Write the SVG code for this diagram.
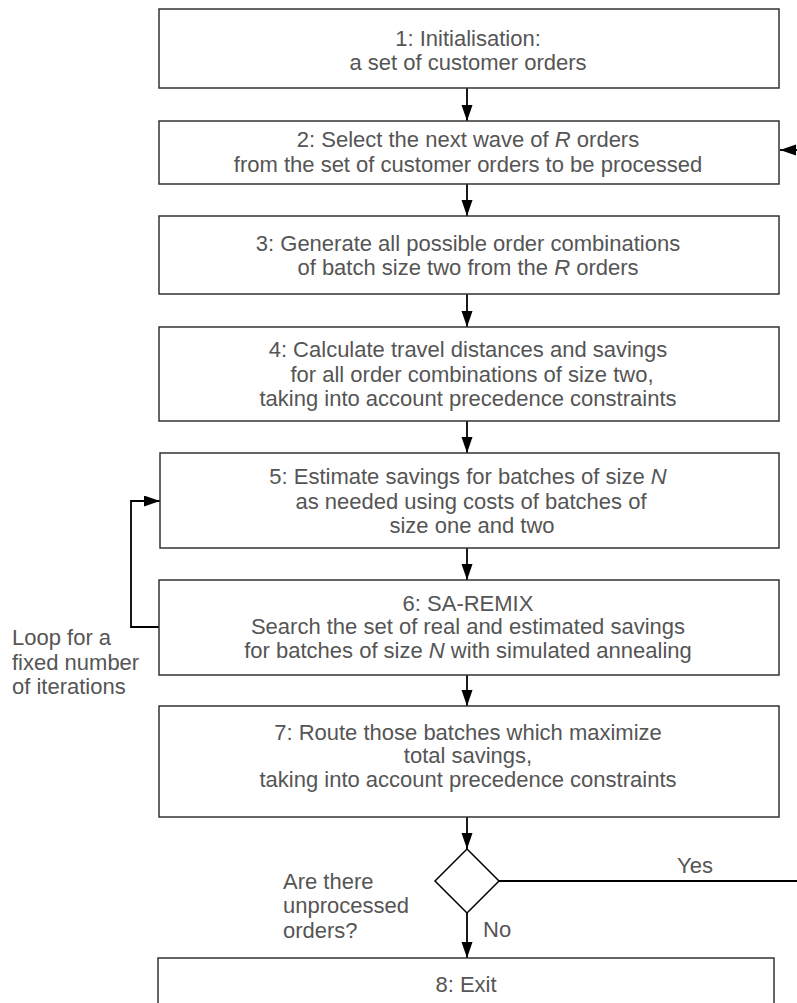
<svg xmlns="http://www.w3.org/2000/svg" width="797" height="1003" viewBox="0 0 797 1003">
<style>
.box{fill:#fff;stroke:#333;stroke-width:1.5}
.t{font-family:"Liberation Sans",Arial,sans-serif;font-size:22px;fill:#555;text-anchor:middle}
.l{font-family:"Liberation Sans",Arial,sans-serif;font-size:22px;fill:#555}
.c{fill:none;stroke:#000;stroke-width:1.8}
</style>
<defs>
<marker id="ah" markerUnits="userSpaceOnUse" markerWidth="17" markerHeight="12" refX="16" refY="5.5" orient="auto">
<path d="M0,0 L16,5.5 L0,11 z" fill="#000"/>
</marker>
</defs>
<rect width="797" height="1003" fill="#fff"/>
<g id="connectors">
<line class="c" x1="467" y1="88" x2="467" y2="121" marker-end="url(#ah)"/>
<line class="c" x1="797" y1="150" x2="780" y2="150" marker-end="url(#ah)"/>
<line class="c" x1="467" y1="184" x2="467" y2="216" marker-end="url(#ah)"/>
<line class="c" x1="467" y1="294" x2="467" y2="327" marker-end="url(#ah)"/>
<line class="c" x1="467" y1="421" x2="467" y2="453" marker-end="url(#ah)"/>
<line class="c" x1="467" y1="548" x2="467" y2="580" marker-end="url(#ah)"/>
<polyline class="c" points="159,627 131,627 131,501 160,501" marker-end="url(#ah)"/>
<line class="c" x1="467" y1="675" x2="467" y2="706" marker-end="url(#ah)"/>
<line class="c" x1="467" y1="817" x2="467" y2="849" marker-end="url(#ah)"/>
<line class="c" x1="499" y1="881" x2="797" y2="881"/>
<line class="c" x1="467" y1="913" x2="467" y2="958" marker-end="url(#ah)"/>
<text class="l" x="677" y="873">Yes</text>
<text class="l" x="483" y="937">No</text>
<text class="l" x="12" y="645">Loop for a</text>
<text class="l" x="12" y="670">fixed number</text>
<text class="l" x="12" y="694">of iterations</text>
</g>
<g id="n1">
<rect class="box" x="159" y="9" width="620" height="79"/>
<text class="t" x="468" y="46">1: Initialisation:</text>
<text class="t" x="468" y="70">a set of customer orders</text>
</g>
<g id="n2">
<rect class="box" x="159" y="121" width="620" height="63"/>
<text class="t" x="468" y="147">2: Select the next wave of <tspan font-style="italic">R</tspan> orders</text>
<text class="t" x="468" y="172">from the set of customer orders to be processed</text>
</g>
<g id="n3">
<rect class="box" x="159" y="216" width="620" height="78"/>
<text class="t" x="468" y="251">3: Generate all possible order combinations</text>
<text class="t" x="468" y="275">of batch size two from the <tspan font-style="italic">R</tspan> orders</text>
</g>
<g id="n4">
<rect class="box" x="159" y="327" width="620" height="94"/>
<text class="t" x="468" y="357">4: Calculate travel distances and savings</text>
<text class="t" x="472" y="382">for all order combinations of size two,</text>
<text class="t" x="468" y="406">taking into account precedence constraints</text>
</g>
<g id="n5">
<rect class="box" x="160" y="453" width="619" height="95"/>
<text class="t" x="468" y="484">5: Estimate savings for batches of size <tspan font-style="italic">N</tspan></text>
<text class="t" x="471" y="509">as needed using costs of batches of</text>
<text class="t" x="472" y="533">size one and two</text>
</g>
<g id="n6">
<rect class="box" x="159" y="580" width="620" height="95"/>
<text class="t" x="468" y="611">6: SA-REMIX</text>
<text class="t" x="468" y="634">Search the set of real and estimated savings</text>
<text class="t" x="468" y="658">for batches of size <tspan font-style="italic">N</tspan> with simulated annealing</text>
</g>
<g id="n7">
<rect class="box" x="159" y="706" width="620" height="111"/>
<text class="t" x="468" y="740">7: Route those batches which maximize</text>
<text class="t" x="468" y="763">total savings,</text>
<text class="t" x="468" y="787">taking into account precedence constraints</text>
</g>
<g id="d1">
<polygon points="467,849 499,881 467,913 435,881" fill="#fff" stroke="#000" stroke-width="1.5"/>
<text class="l" x="283" y="889">Are there</text>
<text class="l" x="283" y="913">unprocessed</text>
<text class="l" x="283" y="938">orders?</text>
</g>
<g id="n8">
<rect class="box" x="158" y="958" width="616" height="60"/>
<text class="t" x="466" y="992">8: Exit</text>
</g>
</svg>
